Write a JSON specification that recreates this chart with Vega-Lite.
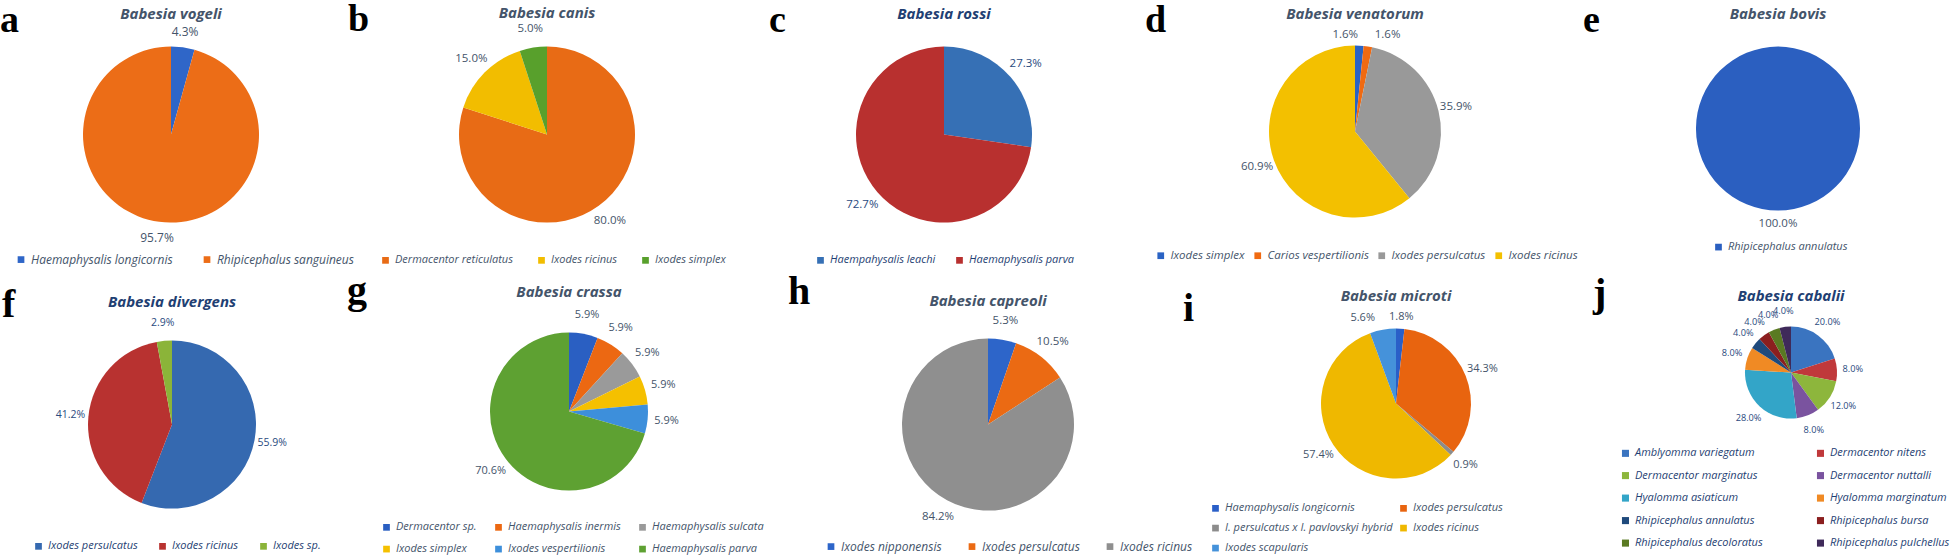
{
  "$schema": "https://vega.github.io/schema/vega-lite/v6.json",
  "padding": {"left": 0, "top": 0.6, "right": 0, "bottom": 0},
  "background": "white",
  "config": {
    "view": {"stroke": null},
    "title": {"font": "Open Sans", "fontSize": 15, "fontStyle": "italic", "fontWeight": "bold", "anchor": "middle", "offset": 4, "color": "#44546a", "dy": 2},
    "legend": {"labelFont": "Open Sans", "labelFontStyle": "italic", "labelFontSize": 11, "labelColor": "#44546a", "symbolType": "square", "symbolSize": 45, "symbolStrokeWidth": 0, "labelOffset": 4, "padding": 0, "labelLimit": 300, "rowPadding": 8},
    "text": {"font": "Open Sans", "fontSize": 11.5, "color": "#44546a"},
    "arc": {"stroke": null}
  },
  "datasets": {
    "a": [
      {"k": 1, "tick": "Haemaphysalis longicornis", "p": 0.043},
      {"k": 2, "tick": "Rhipicephalus sanguineus", "p": 0.957}
    ],
    "b": [
      {"k": 1, "tick": "Dermacentor reticulatus", "p": 0.80},
      {"k": 2, "tick": "Ixodes ricinus", "p": 0.15},
      {"k": 3, "tick": "Ixodes simplex", "p": 0.05}
    ],
    "c": [
      {"k": 1, "tick": "Haempahysalis leachi", "p": 0.273},
      {"k": 2, "tick": "Haemaphysalis parva", "p": 0.727}
    ],
    "d": [
      {"k": 1, "tick": "Ixodes simplex", "p": 0.016},
      {"k": 2, "tick": "Carios vespertilionis", "p": 0.016},
      {"k": 3, "tick": "Ixodes persulcatus", "p": 0.359},
      {"k": 4, "tick": "Ixodes ricinus", "p": 0.609}
    ],
    "e": [
      {"k": 1, "tick": "Rhipicephalus annulatus", "p": 1.0}
    ],
    "f": [
      {"k": 1, "tick": "Ixodes persulcatus", "p": 0.559},
      {"k": 2, "tick": "Ixodes ricinus", "p": 0.412},
      {"k": 3, "tick": "Ixodes sp.", "p": 0.029}
    ],
    "g": [
      {"k": 1, "tick": "Dermacentor sp.", "p": 0.059},
      {"k": 2, "tick": "Haemaphysalis inermis", "p": 0.059},
      {"k": 3, "tick": "Haemaphysalis sulcata", "p": 0.059},
      {"k": 4, "tick": "Ixodes simplex", "p": 0.059},
      {"k": 5, "tick": "Ixodes vespertilionis", "p": 0.059},
      {"k": 6, "tick": "Haemaphysalis parva", "p": 0.706}
    ],
    "h": [
      {"k": 1, "tick": "Ixodes nipponensis", "p": 0.053},
      {"k": 2, "tick": "Ixodes persulcatus", "p": 0.105},
      {"k": 3, "tick": "Ixodes ricinus", "p": 0.842}
    ],
    "i": [
      {"k": 1, "tick": "Haemaphysalis longicornis", "p": 0.018},
      {"k": 2, "tick": "Ixodes persulcatus", "p": 0.343},
      {"k": 3, "tick": "I. persulcatus x I. pavlovskyi hybrid", "p": 0.009},
      {"k": 4, "tick": "Ixodes ricinus", "p": 0.574},
      {"k": 5, "tick": "Ixodes scapularis", "p": 0.056}
    ],
    "j": [
      {"k": 1, "tick": "Amblyomma variegatum", "p": 0.20},
      {"k": 2, "tick": "Dermacentor nitens", "p": 0.08},
      {"k": 3, "tick": "Dermacentor marginatus", "p": 0.12},
      {"k": 4, "tick": "Dermacentor nuttalli", "p": 0.08},
      {"k": 5, "tick": "Hyalomma asiaticum", "p": 0.28},
      {"k": 6, "tick": "Hyalomma marginatum", "p": 0.08},
      {"k": 7, "tick": "Rhipicephalus annulatus", "p": 0.04},
      {"k": 8, "tick": "Rhipicephalus bursa", "p": 0.04},
      {"k": 9, "tick": "Rhipicephalus decoloratus", "p": 0.04},
      {"k": 10, "tick": "Rhipicephalus pulchellus", "p": 0.04}
    ]
  },
  "bounds": "flush",
  "spacing": 288,
  "resolve": {"scale": {"color": "independent", "theta": "independent"}, "legend": {"color": "independent"}},
  "vconcat": [
    {
      "bounds": "flush",
      "spacing": 390,
      "resolve": {"scale": {"color": "independent", "theta": "independent"}, "legend": {"color": "independent"}},
      "hconcat": [
        {
          "title": {"text": "a", "anchor": "start", "frame": "group", "offset": 0, "dx": 0, "dy": 63, "font": "Liberation Serif", "fontSize": 38, "fontWeight": "bold", "fontStyle": "normal", "color": "#000000", "baseline": "alphabetic", "align": "left"},
          "bounds": "flush",
          "vconcat": [{
            "width": 342, "height": 222,
            "title": {"text": "Babesia vogeli"},
            "data": {"name": "a"},
            "encoding": {"theta": {"field": "p", "type": "quantitative", "stack": true}, "order": {"field": "k", "type": "quantitative"}},
            "layer": [
              {"mark": {"type": "arc", "outerRadius": 88},
               "encoding": {"color": {"field": "tick", "type": "nominal", "title": null,
                 "scale": {"domain": ["Haemaphysalis longicornis", "Rhipicephalus sanguineus"], "range": ["#2f66c8", "#ec6d17"]},
                 "legend": {"orient": "none", "legendX": 15, "legendY": 230, "direction": "horizontal", "columns": 2, "columnPadding": 28, "labelFontSize": 12}}}},
              {"mark": {"type": "text", "radius": 104, "fontSize": 12}, "encoding": {"text": {"field": "p", "type": "quantitative", "format": ".1%"}}}
            ]
          }]
        },
        {
          "title": {"text": "b", "anchor": "start", "frame": "group", "offset": 0, "dx": -42, "dy": 63, "font": "Liberation Serif", "fontSize": 38, "fontWeight": "bold", "fontStyle": "normal", "color": "#000000", "baseline": "alphabetic", "align": "left"},
          "bounds": "flush",
          "vconcat": [{
            "width": 314, "height": 222,
            "title": {"text": "Babesia canis"},
            "data": {"name": "b"},
            "encoding": {"theta": {"field": "p", "type": "quantitative", "stack": true}, "order": {"field": "k", "type": "quantitative"}},
            "layer": [
              {"mark": {"type": "arc", "outerRadius": 88},
               "encoding": {"color": {"field": "tick", "type": "nominal", "title": null,
                 "scale": {"domain": ["Dermacentor reticulatus", "Ixodes ricinus", "Ixodes simplex"], "range": ["#e86b15", "#f2bd00", "#58a02c"]},
                 "legend": {"orient": "none", "legendX": -10, "legendY": 231, "direction": "horizontal", "columns": 3, "columnPadding": 22}}}},
              {"mark": {"type": "text", "radius": 107}, "encoding": {"text": {"field": "p", "type": "quantitative", "format": ".1%"}}}
            ]
          }]
        },
        {
          "title": {"text": "c", "anchor": "start", "frame": "group", "offset": 0, "dx": -11, "dy": 63, "font": "Liberation Serif", "fontSize": 38, "fontWeight": "bold", "fontStyle": "normal", "color": "#000000", "baseline": "alphabetic", "align": "left"},
          "bounds": "flush",
          "vconcat": [{
            "width": 328, "height": 222,
            "title": {"text": "Babesia rossi", "color": "#1f3f73"},
            "data": {"name": "c"},
            "encoding": {"theta": {"field": "p", "type": "quantitative", "stack": true}, "order": {"field": "k", "type": "quantitative"}},
            "layer": [
              {"mark": {"type": "arc", "outerRadius": 88},
               "encoding": {"color": {"field": "tick", "type": "nominal", "title": null,
                 "scale": {"domain": ["Haempahysalis leachi", "Haemaphysalis parva"], "range": ["#3670b5", "#b8302f"]},
                 "legend": {"orient": "none", "legendX": 35, "legendY": 231, "direction": "horizontal", "columns": 2, "columnPadding": 18, "labelColor": "#1f3f73"}}}},
              {"mark": {"type": "text", "radius": 108, "color": "#2a4a7e"}, "encoding": {"text": {"field": "p", "type": "quantitative", "format": ".1%"}}}
            ]
          }]
        },
        {
          "title": {"text": "d", "anchor": "start", "frame": "group", "offset": 0, "dx": -25, "dy": 63, "font": "Liberation Serif", "fontSize": 38, "fontWeight": "bold", "fontStyle": "normal", "color": "#000000", "baseline": "alphabetic", "align": "left"},
          "bounds": "flush",
          "vconcat": [{
            "width": 370, "height": 216,
            "title": {"text": "Babesia venatorum"},
            "data": {"name": "d"},
            "transform": [
              {"stack": "p", "groupby": [], "sort": [{"field": "k", "order": "ascending"}], "as": ["t0", "t1"]},
              {"calculate": "(datum.t0 + datum.t1) / 2", "as": "tm"}
            ],
            "layer": [
              {"mark": {"type": "arc", "outerRadius": 86},
               "encoding": {
                 "theta": {"field": "t0", "type": "quantitative", "scale": {"domain": [0, 1]}},
                 "theta2": {"field": "t1"},
                 "color": {"field": "tick", "type": "nominal", "title": null,
                 "scale": {"domain": ["Ixodes simplex", "Carios vespertilionis", "Ixodes persulcatus", "Ixodes ricinus"], "range": ["#2a63c4", "#f06a12", "#999999", "#f3c000"]},
                 "legend": {"orient": "none", "legendX": -15, "legendY": 226, "direction": "horizontal", "columns": 4, "columnPadding": 7, "labelFontSize": 11.5}}}},
              {"transform": [{"filter": "datum.k > 2"}], "mark": {"type": "text", "radius": 104},
               "encoding": {"theta": {"field": "tm", "type": "quantitative", "stack": null}, "text": {"field": "p", "type": "quantitative", "format": ".1%"}}},
              {"transform": [{"filter": "datum.k == 1"}], "mark": {"type": "text", "radius": 104, "dx": -15, "dy": 7},
               "encoding": {"theta": {"field": "tm", "type": "quantitative", "stack": null}, "text": {"field": "p", "type": "quantitative", "format": ".1%"}}},
              {"transform": [{"filter": "datum.k == 2"}], "mark": {"type": "text", "radius": 104, "dx": 17, "dy": 6},
               "encoding": {"theta": {"field": "tm", "type": "quantitative", "stack": null}, "text": {"field": "p", "type": "quantitative", "format": ".1%"}}}
            ]
          }]
        },
        {
          "title": {"text": "e", "anchor": "start", "frame": "group", "offset": 0, "dx": 23, "dy": 63, "font": "Liberation Serif", "fontSize": 38, "fontWeight": "bold", "fontStyle": "normal", "color": "#000000", "baseline": "alphabetic", "align": "left"},
          "bounds": "flush",
          "vconcat": [{
            "width": 436, "height": 210,
            "title": {"text": "Babesia bovis"},
            "data": {"name": "e"},
            "encoding": {"theta": {"field": "p", "type": "quantitative", "stack": true}, "order": {"field": "k", "type": "quantitative"}},
            "layer": [
              {"mark": {"type": "arc", "outerRadius": 82},
               "encoding": {"color": {"field": "tick", "type": "nominal", "title": null,
                 "scale": {"domain": ["Rhipicephalus annulatus"], "range": ["#2b5fc0"]},
                 "legend": {"orient": "none", "legendX": 153, "legendY": 218, "direction": "horizontal", "columns": 1}}}},
              {"mark": {"type": "text", "radius": 95}, "encoding": {"text": {"field": "p", "type": "quantitative", "format": ".1%"}}}
            ]
          }]
        }
      ]
    },
    {
      "bounds": "flush",
      "spacing": 390,
      "resolve": {"scale": {"color": "independent", "theta": "independent"}, "legend": {"color": "independent"}},
      "hconcat": [
        {
          "title": {"text": "f", "anchor": "start", "frame": "group", "offset": 0, "dx": 2, "dy": 62, "font": "Liberation Serif", "fontSize": 40, "fontWeight": "bold", "fontStyle": "normal", "color": "#000000", "baseline": "alphabetic", "align": "left"},
          "bounds": "flush",
          "vconcat": [{
            "width": 344, "height": 226,
            "title": {"text": "Babesia divergens", "color": "#1f3f73", "dy": 2},
            "data": {"name": "f"},
            "encoding": {"theta": {"field": "p", "type": "quantitative", "stack": true}, "order": {"field": "k", "type": "quantitative"}},
            "layer": [
              {"mark": {"type": "arc", "outerRadius": 84},
               "encoding": {"color": {"field": "tick", "type": "nominal", "title": null,
                 "scale": {"domain": ["Ixodes persulcatus", "Ixodes ricinus", "Ixodes sp."], "range": ["#3569b0", "#b83230", "#8bb439"]},
                 "legend": {"orient": "none", "legendX": 33, "legendY": 229, "direction": "horizontal", "columns": 3, "columnPadding": 19, "labelColor": "#1f3f73"}}}},
              {"mark": {"type": "text", "radius": 102, "fontSize": 10.5, "color": "#2a4a7e"}, "encoding": {"text": {"field": "p", "type": "quantitative", "format": ".1%"}}}
            ]
          }]
        },
        {
          "title": {"text": "g", "anchor": "start", "frame": "group", "offset": 0, "dx": -43, "dy": 58, "font": "Liberation Serif", "fontSize": 40, "fontWeight": "bold", "fontStyle": "normal", "color": "#000000", "baseline": "alphabetic", "align": "left"},
          "bounds": "flush",
          "vconcat": [{
            "width": 358, "height": 200,
            "title": {"text": "Babesia crassa", "dy": -5},
            "data": {"name": "g"},
            "encoding": {"theta": {"field": "p", "type": "quantitative", "stack": true}, "order": {"field": "k", "type": "quantitative"}},
            "layer": [
              {"mark": {"type": "arc", "outerRadius": 79},
               "encoding": {"color": {"field": "tick", "type": "nominal", "title": null,
                 "scale": {"domain": ["Dermacentor sp.", "Haemaphysalis inermis", "Haemaphysalis sulcata", "Ixodes simplex", "Ixodes vespertilionis", "Haemaphysalis parva"], "range": ["#2a5fc2", "#ec6812", "#9a9a9a", "#f5c000", "#3d8fdb", "#5ea132"]},
                 "legend": {"orient": "none", "legendX": -9, "legendY": 210, "direction": "horizontal", "columns": 3, "columnPadding": 16, "rowPadding": 10}}}},
              {"mark": {"type": "text", "radius": 98, "fontSize": 11}, "encoding": {"text": {"field": "p", "type": "quantitative", "format": ".1%"}}}
            ]
          }]
        },
        {
          "title": {"text": "h", "anchor": "start", "frame": "group", "offset": 0, "dx": 8, "dy": 50, "font": "Liberation Serif", "fontSize": 40, "fontWeight": "bold", "fontStyle": "normal", "color": "#000000", "baseline": "alphabetic", "align": "left"},
          "bounds": "flush",
          "vconcat": [{
            "width": 416, "height": 226,
            "title": {"text": "Babesia capreoli", "dy": 1},
            "data": {"name": "h"},
            "encoding": {"theta": {"field": "p", "type": "quantitative", "stack": true}, "order": {"field": "k", "type": "quantitative"}},
            "layer": [
              {"mark": {"type": "arc", "outerRadius": 86},
               "encoding": {"color": {"field": "tick", "type": "nominal", "title": null,
                 "scale": {"domain": ["Ixodes nipponensis", "Ixodes persulcatus", "Ixodes ricinus"], "range": ["#2d65c9", "#eb6a13", "#8f8f8f"]},
                 "legend": {"orient": "none", "legendX": 45, "legendY": 229, "direction": "horizontal", "columns": 3, "columnPadding": 24, "labelFontSize": 12}}}},
              {"mark": {"type": "text", "radius": 105}, "encoding": {"text": {"field": "p", "type": "quantitative", "format": ".1%"}}}
            ]
          }]
        },
        {
          "title": {"text": "i", "anchor": "start", "frame": "group", "offset": 0, "dx": 13, "dy": 72, "font": "Liberation Serif", "fontSize": 40, "fontWeight": "bold", "fontStyle": "normal", "color": "#000000", "baseline": "alphabetic", "align": "left"},
          "bounds": "flush",
          "vconcat": [{
            "width": 452, "height": 184,
            "title": {"text": "Babesia microti", "dy": -3},
            "data": {"name": "i"},
            "transform": [
              {"stack": "p", "groupby": [], "sort": [{"field": "k", "order": "ascending"}], "as": ["t0", "t1"]},
              {"calculate": "(datum.t0 + datum.t1) / 2", "as": "tm"}
            ],
            "layer": [
              {"mark": {"type": "arc", "outerRadius": 75},
               "encoding": {
                 "theta": {"field": "t0", "type": "quantitative", "scale": {"domain": [0, 1]}},
                 "theta2": {"field": "t1"},
                 "color": {"field": "tick", "type": "nominal", "title": null,
                 "scale": {"domain": ["Haemaphysalis longicornis", "Ixodes persulcatus", "I. persulcatus x I. pavlovskyi hybrid", "Ixodes ricinus", "Ixodes scapularis"], "range": ["#2a5fc8", "#e8640f", "#8c8c8c", "#efb800", "#4592da"]},
                 "legend": {"orient": "none", "legendX": 40, "legendY": 191, "direction": "horizontal", "columns": 2, "columnPadding": 5, "rowPadding": 8}}}},
              {"transform": [{"filter": "datum.k > 1 && datum.k < 5"}], "mark": {"type": "text", "radius": 93, "fontSize": 11},
               "encoding": {"theta": {"field": "tm", "type": "quantitative", "stack": null}, "text": {"field": "p", "type": "quantitative", "format": ".1%"}}},
              {"transform": [{"filter": "datum.k == 1"}], "mark": {"type": "text", "radius": 93, "fontSize": 11, "dy": 6},
               "encoding": {"theta": {"field": "tm", "type": "quantitative", "stack": null}, "text": {"field": "p", "type": "quantitative", "format": ".1%"}}},
              {"transform": [{"filter": "datum.k == 5"}], "mark": {"type": "text", "radius": 93, "fontSize": 11, "dx": -17, "dy": 6},
               "encoding": {"theta": {"field": "tm", "type": "quantitative", "stack": null}, "text": {"field": "p", "type": "quantitative", "format": ".1%"}}}
            ]
          }]
        },
        {
          "title": {"text": "j", "anchor": "start", "frame": "group", "offset": 0, "dx": 33, "dy": 57, "font": "Liberation Serif", "fontSize": 40, "fontWeight": "bold", "fontStyle": "normal", "color": "#000000", "baseline": "alphabetic", "align": "left"},
          "bounds": "flush",
          "vconcat": [{
            "width": 462, "height": 122,
            "title": {"text": "Babesia cabalii", "color": "#1f3f73", "dy": 1},
            "data": {"name": "j"},
            "encoding": {"theta": {"field": "p", "type": "quantitative", "stack": true}, "order": {"field": "k", "type": "quantitative"}},
            "layer": [
              {"mark": {"type": "arc", "outerRadius": 46},
               "encoding": {"color": {"field": "tick", "type": "nominal", "title": null,
                 "scale": {"domain": ["Amblyomma variegatum", "Dermacentor nitens", "Dermacentor marginatus", "Dermacentor nuttalli", "Hyalomma asiaticum", "Hyalomma marginatum", "Rhipicephalus annulatus", "Rhipicephalus bursa", "Rhipicephalus decoloratus", "Rhipicephalus pulchellus"], "range": ["#3a74c0", "#c0393b", "#8db63c", "#7a539f", "#33a5c8", "#f08a24", "#1f4a7c", "#8b1f1f", "#5a7a22", "#3f2a5a"]},
                 "legend": {"orient": "none", "legendX": 60, "legendY": 136, "direction": "horizontal", "columns": 2, "columnPadding": 52, "gridAlign": "all", "rowPadding": 10.5, "labelFontSize": 11, "labelColor": "#1f3f73", "symbolSize": 50}}}},
              {"mark": {"type": "text", "radius": 62, "fontSize": 9.2, "color": "#2a4a7e"}, "encoding": {"text": {"field": "p", "type": "quantitative", "format": ".1%"}}}
            ]
          }]
        }
      ]
    }
  ]
}
